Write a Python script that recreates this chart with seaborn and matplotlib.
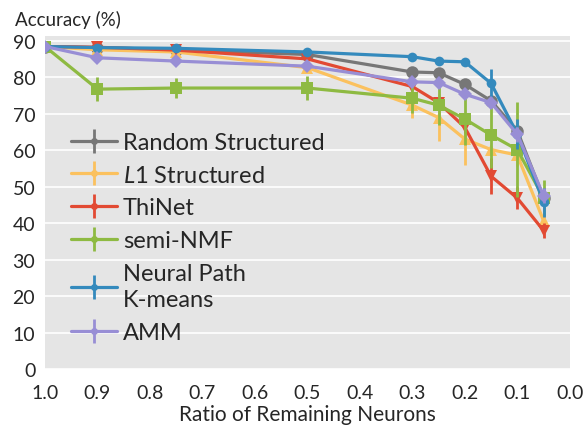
import numpy as np
import pandas as pd
import matplotlib
matplotlib.use("Agg")
import matplotlib.pyplot as plt
import seaborn as sns
from matplotlib.lines import Line2D

ratios = [1.0, 0.9, 0.75, 0.5, 0.3, 0.25, 0.2, 0.15, 0.1, 0.05]

labels = ["Random Structured", "$\\mathit{L}$1 Structured", "ThiNet", "semi-NMF",
          "Neural Path\nK-means", "AMM"]

random_acc = [88.5, 88.2, 87.6, 86.3, 81.5, 81.3, 78.1, 73.6, 65.4, 47.0]
random_err = [0.3, 0.3, 0.3, 0.5, 0.5, 0.5, 1.0, 1.0, 1.5, 2.0]

l1_acc = [88.5, 87.6, 87.0, 82.7, 72.4, 69.0, 63.1, 60.2, 58.7, 40.7]
l1_err = [0.5, 0.5, 0.5, 1.0, 3.5, 6.5, 7.0, 1.0, 3.0, 2.0]

thinet_acc = [88.5, 88.3, 87.5, 85.1, 77.5, 73.1, 66.3, 52.9, 46.9, 38.0]
thinet_err = [0.3, 0.5, 0.5, 0.5, 1.0, 1.0, 1.5, 5.0, 3.0, 2.0]

nmf_acc = [88.5, 76.8, 77.1, 77.1, 74.3, 72.4, 68.6, 64.2, 60.2, 47.0]
nmf_err = [0.5, 3.3, 2.8, 3.3, 4.0, 5.5, 7.0, 9.0, 13.0, 5.0]

npk_acc = [88.5, 88.2, 88.0, 87.0, 85.7, 84.5, 84.3, 78.4, 64.5, 45.8]
npk_err = [0.3, 0.3, 0.3, 0.3, 0.3, 0.3, 0.3, 4.0, 4.0, 4.0]

amm_acc = [88.5, 85.4, 84.5, 83.1, 78.8, 78.6, 75.4, 73.1, 64.4, 47.6]
amm_err = [0.3, 0.5, 0.5, 0.5, 0.5, 1.0, 1.0, 1.5, 2.0, 2.0]

series = [random_acc, l1_acc, thinet_acc, nmf_acc, npk_acc, amm_acc]
errors = [random_err, l1_err, thinet_err, nmf_err, npk_err, amm_err]
colors = ["#777777", "#FBC15E", "#E24A33", "#8EBA42", "#348ABD", "#988ED5"]
markers = ["o", "^", "v", "s", "o", "D"]
msizes = [9, 8, 8, 8, 7, 7]

sns.set_theme(style="darkgrid", rc={"axes.facecolor": "#E5E5E5",
                                    "grid.color": "white", "grid.linewidth": 1.2})
plt.rcParams["font.family"] = ["Lato", "DejaVu Sans"]
plt.rcParams["mathtext.fontset"] = "custom"
plt.rcParams["mathtext.it"] = "Lato:italic"
plt.rcParams["mathtext.rm"] = "Lato"

fig = plt.figure(figsize=(5.88, 4.27), dpi=100)
ax = fig.add_axes([0.0765, 0.1335, 0.8925, 0.78])

handles = []
for acc, err, c, m, ms, lab in zip(series, errors, colors, markers, msizes, labels):
    df = pd.DataFrame({"ratio": ratios, "acc": acc})
    sns.lineplot(data=df, x="ratio", y="acc", color=c, marker=m, markersize=ms,
                 markeredgewidth=0, linewidth=2.3, ax=ax, legend=False)
    ax.errorbar(ratios, acc, yerr=err, fmt="none", ecolor=c, elinewidth=2, capsize=0)
    h = (Line2D([], [], color=c, lw=2.3, marker="o", ms=5, mew=0),
         Line2D([], [], color=c, marker="|", ms=17, mew=2, ls="none"))
    handles.append(h)

ax.set_xlim(1.0, 0.0)
ax.set_ylim(0, 91.4)
ax.set_xticks(np.arange(0, 1.01, 0.1))
ax.set_xticklabels([f"{v:.1f}" for v in np.arange(0, 1.01, 0.1)])
ax.set_yticks(range(0, 91, 10))
ax.grid(axis="x", visible=False)
ax.grid(axis="y", color="white", linewidth=1.2)
ax.tick_params(axis="x", labelsize=14, length=0, pad=11)
ax.tick_params(axis="y", labelsize=14, length=0, pad=7)
for s in ax.spines.values():
    s.set_visible(False)

ax.set_xlabel("Ratio of Remaining Neurons", fontsize=15, labelpad=2)
ax.set_ylabel("Accuracy (%)", fontsize=13.5, rotation=0, ha="left", va="bottom")
ax.yaxis.set_label_coords(-0.058, 1.025)

leg = ax.legend(handles, labels, loc="upper left", bbox_to_anchor=(0.0, 0.79),
                frameon=False, fontsize=17, labelspacing=0.5, handlelength=1.95,
                handletextpad=0.25, borderpad=0.6)
leg.get_texts()[4].set_linespacing(1.3)

fig.savefig("out.png", dpi=100)
